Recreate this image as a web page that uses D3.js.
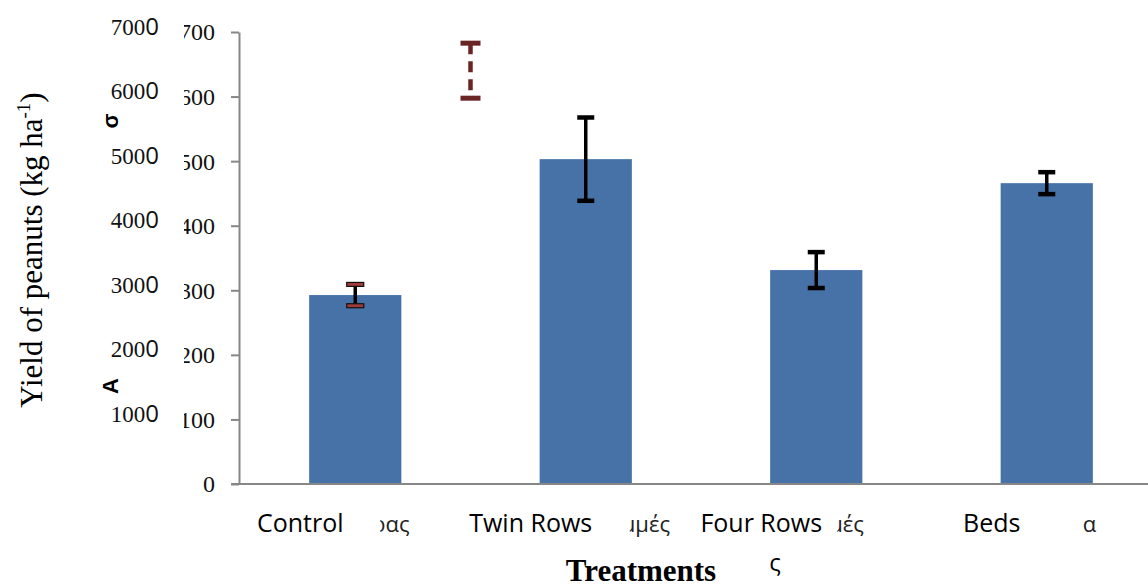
<!DOCTYPE html>
<html>
<head>
<meta charset="utf-8">
<script src="https://cdn.jsdelivr.net/npm/d3@7"></script>
<style>
  html, body { margin: 0; padding: 0; background: #fff; }
  svg { display: block; }
</style>
</head>
<body>
<svg id="chart" width="1148" height="588"></svg>
<script>
// Peanut yield by planting treatment (kg/ha), with standard errors
const categories = ["Control", "Twin Rows", "Four Rows", "Beds"];
const greekTails = ["ρας", "μμές", "μές", "α"];
const yieldKgHa = [2926, 5031, 3313, 4659];
const stdErr = [165, 645, 278, 170];
// a loose error bar left between the first two treatments
const looseMean = [6401];
const looseErr = [426];
const tickValues = [0, 1000, 2000, 3000, 4000, 5000, 6000, 7000];

const svg = d3.select("#chart");
const W = 1148, H = 588;
const axisX = 239, baseY = 484, topY = 32;

const y = d3.scaleLinear().domain([0, 7000]).range([baseY, topY]);
const x = d3.scaleBand().domain(categories).range([240, 1162])
  .paddingInner(0.6).paddingOuter(0.3);
const cx = c => x(c) + x.bandwidth() / 2;

const defs = svg.append("defs");
defs.append("clipPath").attr("id", "innerClip")
  .append("rect").attr("x", 184).attr("y", 0).attr("width", 60).attr("height", H);

// bars
svg.append("g").selectAll("rect").data(categories).join("rect")
  .attr("x", d => x(d))
  .attr("y", (d, i) => y(yieldKgHa[i]))
  .attr("width", x.bandwidth())
  .attr("height", (d, i) => baseY - y(yieldKgHa[i]))
  .attr("fill", "#4672a8");

// y axis (ticks only, labels drawn separately)
const yAxis = svg.append("g").attr("transform", `translate(${axisX},0)`)
  .call(d3.axisLeft(y).tickValues(tickValues).tickSize(8).tickSizeOuter(0).tickFormat(""));
yAxis.selectAll("path, line").attr("stroke", "#878787").attr("stroke-width", 2);

// x axis line
svg.append("line")
  .attr("x1", axisX - 8).attr("x2", W)
  .attr("y1", baseY).attr("y2", baseY)
  .attr("stroke", "#878787").attr("stroke-width", 2);

// inner tick labels (per-stremma scale)
svg.append("g").attr("clip-path", "url(#innerClip)")
  .selectAll("text").data(tickValues).join("text")
  .attr("x", 215).attr("y", d => y(d))
  .attr("dy", "0.35em")
  .attr("text-anchor", "end")
  .attr("font-family", "Liberation Serif, Times New Roman, serif")
  .attr("font-size", 24)
  .attr("fill", "#111")
  .text(d => d / 10);

// outer tick labels (kg/ha)
const outer = svg.append("g").selectAll("text").data(tickValues.filter(d => d > 0)).join("text")
  .attr("x", 159).attr("y", d => y(d) - 3)
  .attr("dy", "0.35em")
  .attr("text-anchor", "end")
  .attr("fill", "#111");
outer.append("tspan").attr("font-family", "Liberation Serif, serif").attr("font-size", 23)
  .text(d => String(d).slice(0, -1));
outer.append("tspan").attr("font-family", "Open Sans, sans-serif").attr("font-size", 24)
  .text(d => String(d).slice(-1));

// error bars
function errorBar(g, xc, lo, hi, opts) {
  const capW = opts.capW;
  g.append("line").attr("x1", xc).attr("x2", xc).attr("y1", y(hi)).attr("y2", y(lo))
    .attr("stroke", opts.stem).attr("stroke-width", opts.sw)
    .attr("stroke-dasharray", opts.dash || null);
  [lo, hi].forEach(v => {
    g.append("rect").attr("x", xc - capW / 2).attr("y", y(v) - opts.capH / 2)
      .attr("width", capW).attr("height", opts.capH)
      .attr("fill", opts.capFill).attr("stroke", opts.capStroke || "none")
      .attr("stroke-width", opts.capStroke ? 1.2 : 0);
  });
}
const eg = svg.append("g");
categories.forEach((c, i) => {
  const lo = yieldKgHa[i] - stdErr[i], hi = yieldKgHa[i] + stdErr[i];
  const first = i === 0;
  errorBar(eg, cx(c), lo, hi, {
    stem: "#000", sw: 3.5, capW: 17, capH: first ? 4 : 4.5,
    capFill: first ? "#a33a3a" : "#000", capStroke: first ? "#111" : null
  });
});
const looseX = (cx(categories[0]) + cx(categories[1])) / 2;
looseMean.forEach((m, i) => {
  errorBar(eg, looseX, m - looseErr[i], m + looseErr[i], {
    stem: "#6b2424", sw: 4.5, capW: 20, capH: 5, capFill: "#6b2424", dash: "11,7"
  });
});

// category labels, with the Greek names showing through to the right
categories.forEach((c, i) => {
  const gx = [25, 44, 21, 36][i];
  const clipId = "gclip" + i;
  defs.append("clipPath").attr("id", clipId).append("rect")
    .attr("x", cx(c) + gx).attr("y", 500)
    .attr("width", i === 1 ? 49 : 80).attr("height", 50);
  svg.append("text")
    .attr("clip-path", `url(#${clipId})`)
    .attr("x", cx(c) + gx - (i === 3 ? 0 : 8)).attr("y", 532)
    .attr("font-family", "Open Sans, sans-serif").attr("font-size", 22)
    .attr("fill", "#222")
    .text(greekTails[i]);
  svg.append("text")
    .attr("x", cx(c) - 55).attr("y", 532)
    .attr("text-anchor", "middle")
    .attr("font-family", "Open Sans, sans-serif").attr("font-size", 25)
    .attr("fill", "#000")
    .text(c);
});

// x axis title
svg.append("text")
  .attr("x", 641).attr("y", 581)
  .attr("text-anchor", "middle")
  .attr("font-family", "Liberation Serif, Times New Roman, serif")
  .attr("font-size", 31).attr("font-weight", "bold")
  .attr("fill", "#000")
  .text("Treatments");
svg.append("text")
  .attr("x", 775).attr("y", 571)
  .attr("text-anchor", "middle")
  .attr("font-family", "Open Sans, sans-serif").attr("font-size", 24)
  .attr("fill", "#000")
  .text("ς");

// y axis title
const yt = svg.append("text")
  .attr("transform", "translate(42,250) rotate(-90)")
  .attr("text-anchor", "middle")
  .attr("font-family", "Liberation Serif, Times New Roman, serif")
  .attr("font-size", 31)
  .attr("fill", "#000");
yt.append("tspan").text("Yield of peanuts (kg ha");
yt.append("tspan").attr("font-size", 19).attr("dy", -12).text("-1");
yt.append("tspan").attr("dy", 12).text(")");

// fragments of the Greek axis title
const frag = (txt, tx, ty) => svg.append("text")
  .attr("transform", `translate(${tx},${ty}) rotate(-90)`)
  .attr("text-anchor", "middle")
  .attr("font-family", "Liberation Sans, Arial, sans-serif")
  .attr("font-weight", "bold").attr("font-size", 22)
  .attr("fill", "#000").text(txt);
frag("A", 118, 386);
frag("σ", 118, 121);
defs.append("clipPath").attr("id", "fragClip").append("rect")
  .attr("x", 95).attr("y", 184).attr("width", 20).attr("height", 16);
frag("ί", 114, 192).attr("clip-path", "url(#fragClip)");
</script>
</body>
</html>
